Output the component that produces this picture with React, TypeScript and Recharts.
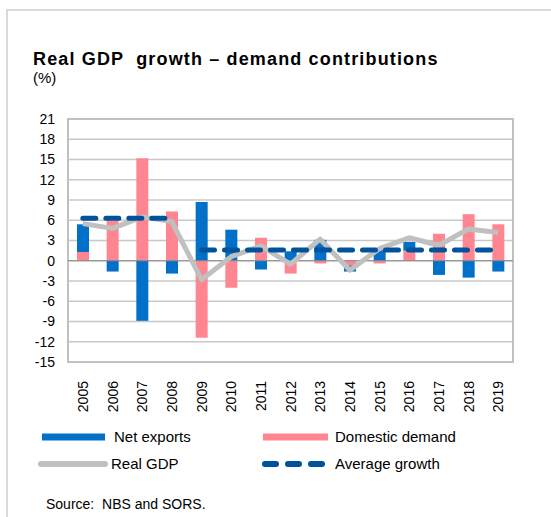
import {
  Bar,
  CartesianGrid,
  ComposedChart,
  Line,
  ReferenceArea,
  ReferenceLine,
  XAxis,
  YAxis,
} from "recharts"

const years = ["2005", "2006", "2007", "2008", "2009", "2010", "2011", "2012", "2013", "2014", "2015", "2016", "2017", "2018", "2019"]
const netExports = [4.1, -1.6, -8.9, -1.9, 8.7, 4.6, -1.3, 1.4, 3.1, -0.9, 1.9, 1.3, -2.1, -2.5, -1.6]
const domesticDemand = [1.3, 5.9, 15.2, 7.3, -11.4, -4.0, 3.4, -1.9, -0.4, -0.7, -0.4, 1.5, 4.0, 6.9, 5.4]
const realGdp = [5.5, 4.8, 6.5, 5.8, -2.8, 0.6, 2.2, -0.5, 3.2, -1.4, 1.8, 3.4, 2.3, 4.7, 4.2]
const averageGrowthPre = [6.3, 6.3, 6.3, 6.3, null, null, null, null, null, null, null, null, null, null, null]
const averageGrowthPost = [null, null, null, null, 1.6, 1.6, 1.6, 1.6, 1.6, 1.6, 1.6, 1.6, 1.6, 1.6, 1.6]
const yTicks = [-15, -12, -9, -6, -3, 0, 3, 6, 9, 12, 15, 18, 21]

const data = years.map((year, i) => ({
  year,
  netExports: netExports[i],
  domesticDemand: domesticDemand[i],
  realGdp: realGdp[i],
  avgPre: averageGrowthPre[i],
  avgPost: averageGrowthPost[i],
}))

const BLUE = "#0070c8"
const PINK = "#ff8690"
const GREY = "#c0c0c0"
const DARK_BLUE = "#00529b"
const FONT = '"Liberation Sans", Arial, sans-serif'

function YearTick({ x, y, payload }: any) {
  return (
    <text
      x={x}
      y={y + 11}
      dy={5}
      transform={`rotate(-90, ${x}, ${y + 11})`}
      textAnchor="end"
      fill="#000"
      fontSize={14}
      fontFamily={FONT}
    >
      {payload.value}
    </text>
  )
}

function LegendItem({ left, top, label, swatch }: { left: number; top: number; label: string; swatch: React.ReactNode }) {
  return (
    <div style={{ position: "absolute", left, top, display: "flex", alignItems: "center" }}>
      <svg width={72} height={12} style={{ display: "block" }}>
        {swatch}
      </svg>
      <span style={{ marginLeft: 2, fontSize: 15, lineHeight: "15px" }}>{label}</span>
    </div>
  )
}

export default function App() {
  return (
    <div
      style={{
        position: "absolute",
        left: 0,
        top: 0,
        width: 551,
        height: 517,
        overflow: "hidden",
        background: "#fff",
        fontFamily: FONT,
        color: "#000",
      }}
    >
      <div
        style={{
          position: "absolute",
          left: 6,
          top: 9,
          width: 600,
          height: 600,
          border: "2px solid #dadada",
        }}
      />
      <div
        style={{
          position: "absolute",
          left: 33,
          top: 50,
          fontSize: 18,
          lineHeight: "18px",
          height: 18,
          fontWeight: "bold",
          letterSpacing: 1.15,
          whiteSpace: "pre",
        }}
      >
        Real GDP  growth – demand contributions
      </div>
      <div style={{ position: "absolute", left: 33, top: 70, fontSize: 15, lineHeight: "15px" }}>(%)</div>

      <div style={{ position: "absolute", left: 0, top: 0 }}>
        <ComposedChart
          width={551}
          height={412}
          data={data}
          stackOffset="sign"
          margin={{ top: 119, right: 38, left: 0, bottom: 0 }}
        >
          <CartesianGrid horizontal vertical={false} stroke="#c8c8c8" strokeWidth={1.5} />
          <ReferenceArea y1={-15} y2={21} fill="none" fillOpacity={0} stroke="#c0c0c0" strokeWidth={2} />
          <XAxis
            dataKey="year"
            height={50}
            axisLine={false}
            tickLine={false}
            interval={0}
            tick={<YearTick />}
          />
          <YAxis
            width={68}
            domain={[-15, 21]}
            ticks={yTicks}
            interval={0}
            axisLine={false}
            tickLine={false}
            tickMargin={7}
            tick={{ fill: "#000", fontSize: 14, fontFamily: FONT }}
          />
          <ReferenceLine y={0} stroke="#888" strokeWidth={1} />
          <Bar dataKey="domesticDemand" stackId="a" fill={PINK} barSize={12} isAnimationActive={false} />
          <Bar dataKey="netExports" stackId="a" fill={BLUE} barSize={12} isAnimationActive={false} />
          <Line
            type="linear"
            dataKey="realGdp"
            stroke={GREY}
            strokeWidth={5}
            strokeLinejoin="round"
            dot={false}
            isAnimationActive={false}
          />
          <Line
            type="linear"
            dataKey="avgPre"
            stroke={DARK_BLUE}
            strokeWidth={5}
            strokeDasharray="13 10"
            strokeLinecap="round"
            dot={false}
            connectNulls={false}
            isAnimationActive={false}
          />
          <Line
            type="linear"
            dataKey="avgPost"
            stroke={DARK_BLUE}
            strokeWidth={5}
            strokeDasharray="13 10"
            strokeLinecap="round"
            dot={false}
            connectNulls={false}
            isAnimationActive={false}
          />
        </ComposedChart>
      </div>

      <LegendItem
        left={40}
        top={429}
        label="Net exports"
        swatch={<rect x={2} y={2.5} width={63} height={7} fill={BLUE} />}
      />
      <LegendItem
        left={261}
        top={429}
        label="Domestic demand"
        swatch={<rect x={2} y={2.5} width={65} height={7} fill={PINK} />}
      />
      <LegendItem
        left={37}
        top={456}
        label="Real GDP"
        swatch={<line x1={4} y1={6} x2={68} y2={6} stroke={GREY} strokeWidth={6} strokeLinecap="round" />}
      />
      <LegendItem
        left={261}
        top={456}
        label="Average growth"
        swatch={
          <line
            x1={4}
            y1={6}
            x2={61}
            y2={6}
            stroke={DARK_BLUE}
            strokeWidth={6}
            strokeDasharray="11 12"
            strokeLinecap="round"
          />
        }
      />

      <div style={{ position: "absolute", left: 46, top: 497, fontSize: 14, lineHeight: 1, whiteSpace: "pre" }}>
        Source:  NBS and SORS.
      </div>
    </div>
  )
}
